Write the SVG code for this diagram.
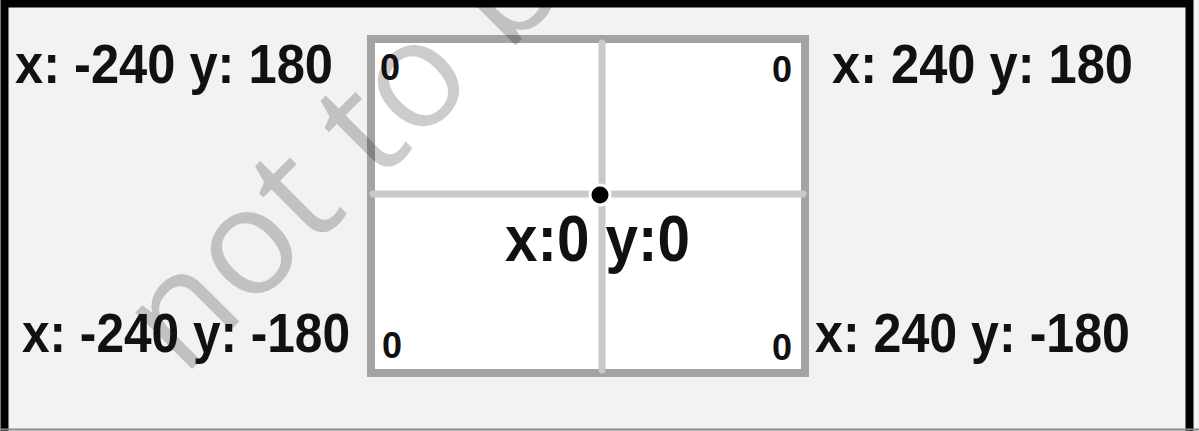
<svg xmlns="http://www.w3.org/2000/svg" width="1199" height="431" viewBox="0 0 1199 431">
<style>
.lbl{font-family:"Liberation Sans",Arial,sans-serif;font-weight:bold;font-size:56px;fill:#111;}
.ctr{font-family:"Liberation Sans",Arial,sans-serif;font-weight:bold;font-size:64px;fill:#111;}
.zero{font-family:"Liberation Sans",Arial,sans-serif;font-weight:bold;font-size:36px;fill:#111;}
.wm{font-family:"Open Sans",Lato,sans-serif;font-weight:400;font-size:150px;fill:#000;fill-opacity:0.2;}
</style>
<rect x="0" y="0" width="1199" height="431" fill="#f1f2f2"/>
<rect x="4.5" y="3.5" width="1185" height="450" fill="none" stroke="#000" stroke-width="8"/>
<line x1="0" y1="429.5" x2="1199" y2="429.5" stroke="#8a8a8a" stroke-width="2"/>
<g id="grid">
<rect x="371" y="39" width="434" height="334" fill="#fff" stroke="#a3a3a3" stroke-width="8"/>
<g id="connectors">
<line x1="602" y1="43" x2="602" y2="370" stroke="#c9c9c9" stroke-width="7" stroke-linecap="round"/>
<line x1="373" y1="194" x2="803" y2="194" stroke="#c9c9c9" stroke-width="7" stroke-linecap="round"/>
</g>
<circle id="origin" cx="600" cy="195" r="10" fill="#000" stroke="#fff" stroke-width="3"/>
</g>
<text class="wm" transform="translate(183,378) rotate(-45)">not to be republished</text>
<g id="corner-tl"><text class="zero" x="380" y="80">0</text><text class="lbl" x="15" y="83" textLength="318" lengthAdjust="spacingAndGlyphs">x: -240 y: 180</text></g>
<g id="corner-tr"><text class="zero" x="772" y="82">0</text><text class="lbl" x="832" y="83" textLength="301" lengthAdjust="spacingAndGlyphs">x: 240 y: 180</text></g>
<g id="corner-bl"><text class="zero" x="382" y="358">0</text><text class="lbl" x="22" y="352" textLength="328" lengthAdjust="spacingAndGlyphs">x: -240 y: -180</text></g>
<g id="corner-br"><text class="zero" x="772" y="360">0</text><text class="lbl" x="815" y="352" textLength="315" lengthAdjust="spacingAndGlyphs">x: 240 y: -180</text></g>
<g id="center"><text class="ctr" x="505" y="261" textLength="185" lengthAdjust="spacingAndGlyphs">x:0 y:0</text></g>
</svg>
